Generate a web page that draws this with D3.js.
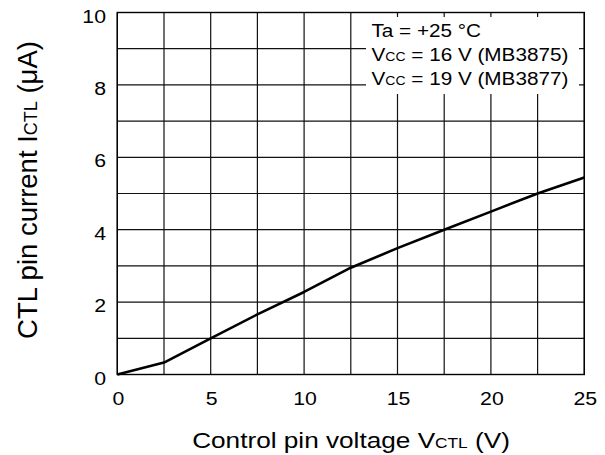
<!DOCTYPE html>
<html lang="en">
<head>
<meta charset="UTF-8">
<title>CTL pin current vs control pin voltage</title>
<script src="https://d3js.org/d3.v7.min.js"></script>
<style>
  body { margin: 0; background: #fff; }
  svg { display: block; font-family: "Liberation Sans", Arial, sans-serif; }
</style>
</head>
<body>
<div id="chart"></div>
<script>
// data
const voltage = [0, 2.5, 5, 7.5, 10, 12.5, 15, 17.5, 20, 22.5, 25];
const current = [0, 0.33, 1.0, 1.66, 2.28, 2.95, 3.49, 4.0, 4.5, 5.0, 5.44];
const xTicks = [0, 5, 10, 15, 20, 25];
const yTicks = [0, 2, 4, 6, 8, 10];
const legendLines = [
  [["Ta = +25 °C", false]],
  [["V", false], ["CC", true], [" = 16 V (MB3875)", false]],
  [["V", false], ["CC", true], [" = 19 V (MB3877)", false]]
];

const width = 605, height = 455;
const margin = { top: 12.5, right: 20.7, bottom: 80.5, left: 117.3 };
const sx = 1.12; // text in the picture is a bit wider than tall

const svg = d3.select('#chart').append('svg')
  .attr('width', width)
  .attr('height', height);

const x = d3.scaleLinear().domain([0, 25]).range([margin.left, width - margin.right]);
const y = d3.scaleLinear().domain([0, 10]).range([height - margin.bottom, margin.top]);

// grid
svg.append('g').selectAll('line')
  .data(d3.range(0, 25.01, 2.5))
  .join('line')
  .attr('x1', d => x(d)).attr('x2', d => x(d))
  .attr('y1', y(0)).attr('y2', y(10))
  .attr('stroke', '#111').attr('stroke-width', 1.2);

svg.append('g').selectAll('line')
  .data(d3.range(0, 10.01, 1))
  .join('line')
  .attr('x1', x(0)).attr('x2', x(25))
  .attr('y1', d => y(d)).attr('y2', d => y(d))
  .attr('stroke', '#111').attr('stroke-width', 1.2);

svg.append('rect')
  .attr('x', x(0)).attr('y', y(10))
  .attr('width', x(25) - x(0)).attr('height', y(0) - y(10))
  .attr('fill', 'none').attr('stroke', '#000').attr('stroke-width', 1.4);

// curve
const line = d3.line()
  .x((d, i) => x(voltage[i]))
  .y(d => y(d));

svg.append('path')
  .datum(current)
  .attr('d', line)
  .attr('fill', 'none')
  .attr('stroke', '#000')
  .attr('stroke-width', 2.6)
  .attr('stroke-linejoin', 'round');

// tick labels
svg.append('g').selectAll('text')
  .data(xTicks)
  .join('text')
  .attr('transform', d => `translate(${x(d) + 1},405) scale(${sx},1)`)
  .attr('text-anchor', 'middle')
  .attr('font-size', 19)
  .text(d => d);

svg.append('g').selectAll('text')
  .data(yTicks)
  .join('text')
  .attr('transform', d => `translate(106,${y(d) + 10}) scale(${sx},1)`)
  .attr('text-anchor', 'end')
  .attr('font-size', 19)
  .text(d => d);

// legend
const lg = svg.append('g');
lg.append('rect')
  .attr('x', 366).attr('y', 17)
  .attr('width', 213).attr('height', 77)
  .attr('fill', '#fff');

lg.selectAll('text')
  .data(legendLines)
  .join('text')
  .attr('transform', (d, i) => `translate(371.5,${37 + i * 24.2}) scale(1.12,1)`)
  .attr('font-size', 18.5)
  .selectAll('tspan')
  .data(d => d)
  .join('tspan')
  .attr('font-size', d => d[1] ? 12.5 : 18.5)
  .text(d => d[0]);

// axis titles
svg.append('text')
  .attr('transform', `translate(351,448) scale(1.19,1)`)
  .attr('text-anchor', 'middle')
  .attr('font-size', 22)
  .call(t => {
    t.append('tspan').text('Control pin voltage V');
    t.append('tspan').attr('font-size', 14.5).text('CTL');
    t.append('tspan').text(' (V)');
  });

svg.append('text')
  .attr('transform', `translate(37,190) rotate(-90)`)
  .attr('text-anchor', 'middle')
  .attr('font-size', 27.5)
  .call(t => {
    t.append('tspan').text('CTL pin current I');
    t.append('tspan').attr('font-size', 18).text('CTL');
    t.append('tspan').text(' (\u03bcA)');
  });
</script>
</body>
</html>
